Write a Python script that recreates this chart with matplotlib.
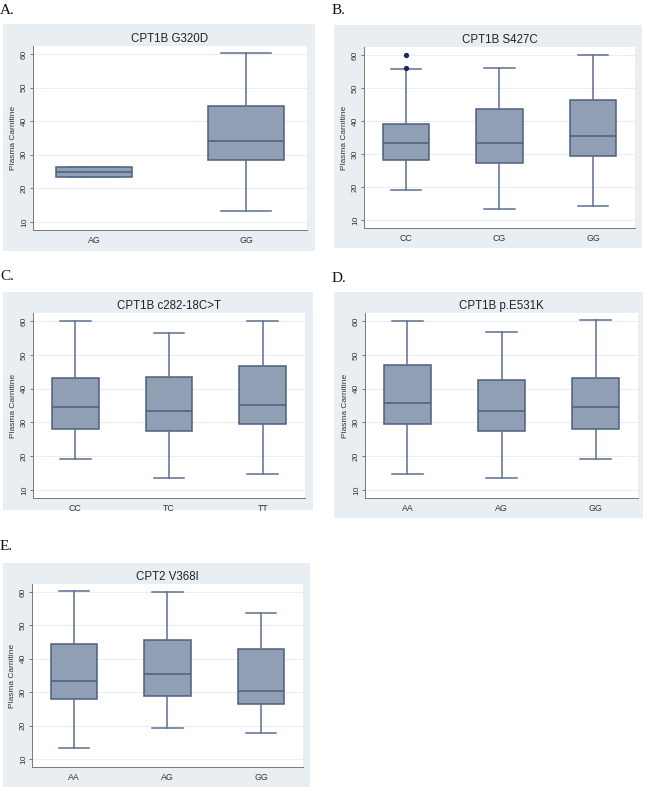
import matplotlib
matplotlib.use("Agg")
import matplotlib.pyplot as plt
from matplotlib.patches import Rectangle

W, H = 647, 787

# ---- data ----
titles = ["CPT1B G320D", "CPT1B S427C", "CPT1B c282-18C>T", "CPT1B p.E531K", "CPT2 V368I"]
panel_labels = ["A.", "B.", "C.", "D.", "E."]

cats_A = ["AG", "GG"]
low_A = [23.3, 13.4]
q1_A = [23.3, 28.3]
med_A = [24.9, 34.1]
q3_A = [26.4, 44.6]
high_A = [26.4, 60.2]
fl_A = [[], []]

cats_B = ["CC", "CG", "GG"]
low_B = [19.1, 13.3, 14.4]
q1_B = [28.3, 27.4, 29.4]
med_B = [33.3, 33.3, 35.4]
q3_B = [39.2, 43.7, 46.3]
high_B = [55.6, 56.1, 59.9]
fl_B = [[56.0, 60.1], [], []]

cats_C = ["CC", "TC", "TT"]
low_C = [19.1, 13.4, 14.6]
q1_C = [28.1, 27.5, 29.6]
med_C = [34.6, 33.5, 35.1]
q3_C = [43.0, 43.3, 46.6]
high_C = [60.1, 56.6, 60.0]
fl_C = [[], [], []]

cats_D = ["AA", "AG", "GG"]
low_D = [14.6, 13.4, 19.1]
q1_D = [29.6, 27.5, 28.1]
med_D = [35.7, 33.5, 34.7]
q3_D = [47.1, 42.6, 43.0]
high_D = [60.1, 56.7, 60.2]
fl_D = [[], [], []]

cats_E = ["AA", "AG", "GG"]
low_E = [13.3, 19.2, 17.9]
q1_E = [28.1, 29.0, 26.6]
med_E = [33.5, 35.5, 30.5]
q3_E = [44.5, 45.7, 43.0]
high_E = [60.2, 60.0, 53.8]
fl_E = [[], [], []]

yticks = [10, 20, 30, 40, 50, 60]
ylabel = "Plasma Carnitine"

panels = [
    (cats_A, low_A, q1_A, med_A, q3_A, high_A, fl_A),
    (cats_B, low_B, q1_B, med_B, q3_B, high_B, fl_B),
    (cats_C, low_C, q1_C, med_C, q3_C, high_C, fl_C),
    (cats_D, low_D, q1_D, med_D, q3_D, high_D, fl_D),
    (cats_E, low_E, q1_E, med_E, q3_E, high_E, fl_E),
]

# layout in pixels: plot area (x0,x1,y0,y1), background (x0,x1,y0,y1), label pos
plot_px = [(33, 307, 46, 230), (364, 635, 47, 228), (33, 305, 313, 498),
           (365, 638, 313, 498), (32, 303, 584, 767)]
bg_px = [(3, 315, 24, 251), (334, 642, 25, 248), (3, 313, 292, 510),
         (334, 643, 292, 518), (3, 310, 563, 787)]
lab_px = [(0, 14), (332, 14), (0, 280), (332, 282), (0, 550)]

bg_col = "#e9eef2"
fill_col = "#909fb3"
edge_col = "#4d5f80"
whisk_col = "#5d7090"
grid_col = "#eaeef2"

fig = plt.figure(figsize=(W / 100, H / 100), dpi=100)
fig.patch.set_facecolor("white")

for i, (cats, lo, q1, med, q3, hi, fl) in enumerate(panels):
    bx0, bx1, by0, by1 = bg_px[i]
    fig.add_artist(Rectangle((bx0 / W, 1 - by1 / H), (bx1 - bx0) / W, (by1 - by0) / H,
                             transform=fig.transFigure, facecolor=bg_col,
                             edgecolor="none", zorder=0))
    x0, x1, y0, y1 = plot_px[i]
    ax = fig.add_axes([x0 / W, 1 - y1 / H, (x1 - x0) / W, (y1 - y0) / H])
    ax.set_facecolor("white")
    n = len(cats)
    stats = []
    for k in range(n):
        stats.append(dict(whislo=lo[k], q1=q1[k], med=med[k], q3=q3[k],
                          whishi=hi[k], fliers=fl[k], label=cats[k]))
    pos = list(range(1, n + 1))
    ax.bxp(stats, positions=pos, widths=0.5, capwidths=0.33, patch_artist=True,
           showfliers=True,
           boxprops=dict(facecolor=fill_col, edgecolor=edge_col, linewidth=1.1),
           medianprops=dict(color=edge_col, linewidth=1.1),
           whiskerprops=dict(color=whisk_col, linewidth=1.1),
           capprops=dict(color=whisk_col, linewidth=1.1),
           flierprops=dict(marker="o", markerfacecolor="#1c2b55",
                           markeredgecolor="#1c2b55", markersize=2.8))
    half = 0.9 if n == 2 else 1.45
    ax.set_xlim((n + 1) / 2 - half, (n + 1) / 2 + half)
    ax.set_ylim(7.6, 62.4)
    ax.set_yticks(yticks)
    ax.set_yticklabels([str(t) for t in yticks], rotation=90, va="center",
                       fontsize=6, family="Liberation Sans", color="#333333")
    ax.set_xticks(pos)
    ax.set_xticklabels(cats, fontsize=6.3, family="Liberation Sans", color="#333333")
    ax.tick_params(axis="y", length=2.5, width=0.6, color="#666666", pad=1.2)
    ax.tick_params(axis="x", length=0, pad=4)
    ax.grid(axis="y", color=grid_col, linewidth=0.8)
    ax.set_axisbelow(True)
    for s in ["top", "right"]:
        ax.spines[s].set_visible(False)
    for s in ["left", "bottom"]:
        ax.spines[s].set_color("#777777")
        ax.spines[s].set_linewidth(0.7)
    ax.set_ylabel(ylabel, fontsize=6, family="Liberation Sans", color="#333333")
    ax.yaxis.set_label_coords(-19.5 / (x1 - x0), 0.5)
    ax.yaxis.label.set_va("center")
    ax.set_title(titles[i], fontsize=8.3, family="Liberation Sans", color="#222222",
                 pad=3)
    lx, ly = lab_px[i]
    fig.text(lx / W, 1 - ly / H, panel_labels[i], fontsize=11,
             family="Liberation Serif", color="#111111", ha="left", va="baseline")

fig.savefig("out.png", dpi=100)
